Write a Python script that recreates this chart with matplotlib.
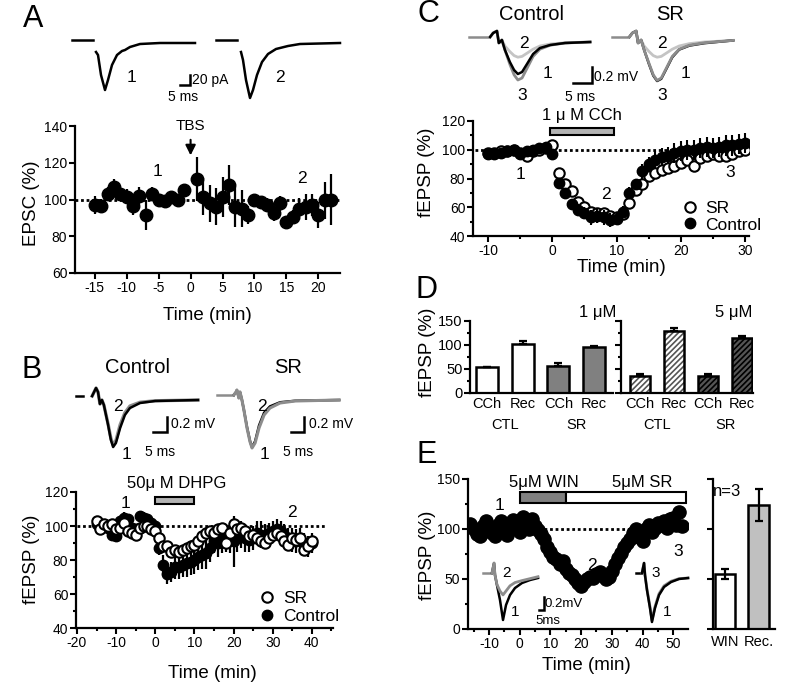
"""
Five-panel figure: EPSC after TBS (A), DHPG (B), CCh (C, D) and WIN/SR (E).
"""
import numpy as np
import matplotlib.pyplot as plt
from matplotlib.lines import Line2D
from matplotlib.ticker import MultipleLocator

# -------------------- Data --------------------
# A: EPSC (%) vs time (min)
a_time = [-15, -14, -13, -12, -11, -10, -9, -8, -7, -6, -5, -4, -3, -2, -1,
          1, 2, 3, 4, 5, 6, 7, 8, 9, 10, 11, 12, 13, 14, 15, 16, 17, 18, 19, 20, 21, 22]
a_epsc = [97, 96.5, 103, 107, 103, 101.5, 96.5, 102, 91.5, 103, 100, 99, 101.5, 99.5, 105,
          111, 101.5, 98, 96, 101.5, 108, 96, 95, 91.5, 99.5, 98.5, 97, 92.5, 98, 88, 90.5,
          95, 96, 97, 91.5, 99.5, 100]
a_err = [5, 4, 4, 4, 3, 4, 5, 5, 8, 4, 3, 3, 3, 3, 3,
         12, 10, 10, 10, 11, 11, 11, 10, 5, 3, 3, 4, 4, 4, 3, 4, 6, 7, 6, 7, 10, 14]

# A traces (ms, pA)
a_tr1_t = [13, 14, 15.5, 17.5, 19, 21, 23.5, 26, 27.5, 30, 35, 45, 62.5]
a_tr1_v = [-18, -24, -64, -94, -74, -44, -24, -16, -14, -8, -2, 0, 0]
a_tr2_t = [85.5, 86.5, 88, 90, 91.5, 93.5, 96, 99, 103, 109, 115, 135]
a_tr2_v = [-18, -34, -74, -110, -94, -64, -38, -22, -12, -6, -2, 0]
a_base_t = [[1, 11.5], [73, 83.5]]

# B: fEPSP (%) with DHPG
b_time = list(range(-15, 41))
b_sr = [103, 98, 101, 100, 101, 98, 99, 102, 97, 96, 95, 99, 100, 100, 98, 97,
        93, 88, 88, 85, 86, 85, 86, 87, 88, 89, 91, 94, 96, 97, 96, 98, 99, 90, 96, 101,
        98, 99, 97, 94, 95, 93, 91, 90, 93, 95, 96, 94, 91, 89, 93, 92, 93, 86, 88, 91]
b_ctl = [101, 99, 100, 99, 95, 94, 103, 105, 104, 99, 98, 106, 105, 104, 102, 100,
         87, 77, 72, 73, 76, 76, 77, 78, 79, 80, 82, 83, 84, 87, 91, 90, 92, 93, 92, 91,
         93, 95, 93, 92, 93, 96, 95, 94, 96, 97, 98, 97, 95, 93, 92, 91, 92, 90, 88, 90]
b_ctl_err = [3, 3, 3, 3, 3, 3, 3, 3, 3, 3, 3, 3, 3, 3, 3, 3,
             4, 6, 6, 6, 7, 7, 7, 8, 8, 8, 8, 8, 9, 8, 7, 8, 8, 8, 8, 15,
             8, 8, 8, 7, 7, 7, 8, 7, 6, 6, 6, 6, 6, 6, 7, 7, 7, 6, 6, 6]
b_dhpg = (0, 10)

# B traces (ms, mV)
b_ctl_t = [7.9, 8.6, 9.3, 10.0, 10.7, 11.4, 12.1, 13.6, 14.6, 15.4, 16.4, 17.9, 19.6, 21.4, 25.0, 30.4, 45.7]
b_ctl_1 = [0.053, 0.107, 0.16, 0.107, -0.053, 0, -0.067, -0.333, -0.533, -0.627, -0.573, -0.373, -0.2, -0.107, -0.04, -0.013, 0]
b_ctl_2 = [0.053, 0.107, 0.16, 0.107, -0.053, 0, -0.067, -0.32, -0.51, -0.6, -0.54, -0.33, -0.17, -0.08, -0.03, -0.01, 0]
b_sr_t = [58.5, 59.3, 59.6, 60.3, 60.7, 61.4, 62.1, 63.2, 64.3, 65.0, 66.1, 67.5, 69.3, 71.4, 75.0, 80.4, 96.1]
b_sr_1 = [0.067, 0.107, 0.133, 0.027, 0.107, 0, -0.133, -0.373, -0.56, -0.64, -0.573, -0.373, -0.2, -0.107, -0.04, -0.013, 0]
b_sr_2 = [0.067, 0.107, 0.133, 0.027, 0.107, 0, -0.133, -0.36, -0.55, -0.63, -0.55, -0.34, -0.17, -0.085, -0.03, -0.01, 0]
b_base_t = [[2.1, 4.6], [52.5, 58.2]]

# C: fEPSP (%) with CCh
c_time = list(range(-10, 31))
c_ctl = [97, 97, 98, 99, 100, 97, 99, 100, 101, 102, 97, 77, 70, 62, 58, 56, 53, 54, 53, 51, 52,
         57, 70, 76, 85, 90, 93, 95, 96, 98, 99, 100, 100, 101, 102, 101, 102, 103, 103, 104, 105]
c_ctl_err = [2, 2, 2, 2, 2, 2, 2, 2, 2, 2, 2, 3, 3, 3, 4, 4, 5, 5, 5, 5, 4,
             4, 4, 4, 5, 5, 6, 6, 6, 7, 7, 7, 7, 7, 7, 7, 7, 7, 7, 7, 7]
c_sr = [98, 98, 99, 99, 100, 98, 96, 99, 100, 101, 103, 84, 76, 71, 64, 60, 57, 56, 56, 54, 53,
        55, 63, 72, 76, 82, 84, 86, 87, 89, 91, 93, 89, 94, 96, 97, 96, 96, 97, 99, 100]
c_cch = (-0.3, 9.6)

# C traces (ms, mV)
c_ctl_t = [6.6, 7.4, 8.4, 8.9, 9.7, 10.5, 11.8, 12.9, 13.9, 15.0, 16.3, 17.9, 19.7, 22.4, 26.3, 32.9]
c_ctl_1 = [0.0625, 0.1125, 0.1375, -0.0125, 0.025, -0.1, -0.25, -0.35, -0.4, -0.375, -0.275, -0.15, -0.075, -0.0375, -0.0125, 0]
c_ctl_2 = [0.0625, 0.1125, 0.1375, -0.0125, 0.025, -0.05, -0.12, -0.17, -0.19, -0.18, -0.14, -0.09, -0.05, -0.025, -0.01, 0]
c_ctl_3 = [0.0625, 0.1125, 0.1375, -0.0125, 0.025, -0.1, -0.28, -0.41, -0.475, -0.45, -0.33, -0.18, -0.09, -0.04, -0.0125, 0]
c_sr_t = [43.2, 44.0, 45.0, 45.5, 46.3, 47.1, 48.4, 49.5, 50.5, 51.6, 52.9, 54.5, 56.3, 59.0, 62.9, 70.5]
c_sr_1 = [0.0625, 0.1125, 0.1375, -0.0125, 0.025, -0.1, -0.28, -0.42, -0.4875, -0.46, -0.34, -0.19, -0.095, -0.045, -0.015, 0.02]
c_sr_2 = [0.0625, 0.1125, 0.1375, -0.0125, 0.025, -0.05, -0.12, -0.17, -0.19, -0.18, -0.14, -0.09, -0.05, -0.02, 0, 0.02]
c_sr_3 = [0.0625, 0.1125, 0.1375, -0.0125, 0.025, -0.1, -0.27, -0.41, -0.48, -0.45, -0.33, -0.18, -0.09, -0.04, -0.01, 0.02]
c_base_t = [[1.05, 6.05], [38.7, 42.6]]

# D: bar summaries
d_labels = ["CCh", "Rec", "CCh", "Rec"]
d_groups = ["CTL", "SR"]
d1_vals = [55, 103, 56, 95]
d1_err = [0, 6, 6, 3]
d5_vals = [35, 129, 35, 115]
d5_err = [4, 7, 4, 4]

# E: fEPSP (%) with WIN then SR
e_time = list(range(-16, 54))
e_fepsp = [105, 100, 95, 93, 103, 108, 102, 96, 93, 104, 108, 100, 94, 106, 109, 101, 97,
           112, 107, 100, 110, 103, 99, 95, 90, 82, 77, 72, 70, 65, 68, 60, 56, 54, 50, 46, 43,
           47, 50, 52, 51, 55, 57, 53, 50, 52, 58, 65, 71, 76, 82, 86, 90, 96, 100, 92, 88,
           100, 104, 97, 101, 106, 104, 108, 101, 110, 111, 104, 117, 103]
e_win = (0, 15)
e_srp = (15, 54)
e_bar_labels = ["WIN", "Rec."]
e_bar_vals = [55, 124]
e_bar_err = [5, 16]

# E traces (ms, mV)
e_l_t = [14.8, 17.0, 18.0, 20.1, 23.3, 26.5, 29.7, 33.9, 39.2, 46.6, 55.1, 63.6]
e_l_1 = [0.077, 0.23, 0.046, -0.108, -0.338, -0.646, -0.415, -0.262, -0.154, -0.077, -0.031, 0]
e_l_2 = [0.077, 0.23, 0.046, -0.1, -0.2, -0.26, -0.2, -0.12, -0.07, -0.04, -0.01, 0.02]
e_r_t = [14.8, 17.0, 18.0, 20.1, 23.3, 25.4, 28.6, 32.9, 38.2, 45.6, 54.1, 63.6]
e_r_1 = [0.077, 0.23, 0.046, -0.185, -0.462, -0.677, -0.462, -0.262, -0.138, -0.062, -0.015, 0]
e_r_3 = [0.077, 0.23, 0.046, -0.17, -0.44, -0.65, -0.44, -0.24, -0.12, -0.05, -0.01, 0]

# -------------------- Style --------------------
plt.rcParams["font.family"] = ["Liberation Sans", "DejaVu Sans"]
plt.rcParams["axes.linewidth"] = 1.6
plt.rcParams["axes.unicode_minus"] = False
plt.rcParams["hatch.linewidth"] = 1.2

W, H = 800, 698
fig = plt.figure(figsize=(W / 100, H / 100), dpi=100)
DOT = (0, (1, 1))
TLW = 1.8  # trace line width


def px_axes(x0, y0, x1, y1):
    return fig.add_axes([x0 / W, 1 - y1 / H, (x1 - x0) / W, (y1 - y0) / H])


def style(ax, size=10):
    for s in ["top", "right"]:
        ax.spines[s].set_visible(False)
    ax.tick_params(direction="out", length=4, width=1.5, labelsize=size, pad=1.5)
    ax.tick_params(which="minor", direction="out", length=2.5, width=1.5)
    ax.patch.set_alpha(0)


def trace_axes(x0, y0, x1, y1, tlim, vlim):
    ax = px_axes(x0, y0, x1, y1)
    ax.set_xlim(tlim)
    ax.set_ylim(vlim)
    ax.axis("off")
    return ax


def scalebar(ax, t0, t1, v0, v1, tlab, vlab, tpos, vpos, size=10):
    ax.plot([t0, t1, t1], [v0, v0, v1], color="k", lw=1.8, solid_joinstyle="miter")
    ax.text(vpos[0], vpos[1], vlab, ha="left", va="center", fontsize=size)
    ax.text(tpos[0], tpos[1], tlab, ha="center", va="center", fontsize=size)


def label(x, y, s, size=13.5, rot=0):
    fig.text(x / W, 1 - y / H, s, ha="center", va="center", fontsize=size, rotation=rot)


# -------------------- Panel A --------------------
axA = px_axes(75, 126, 340, 273)
style(axA)
axA.axhline(100, ls=DOT, lw=2, color="k", zorder=1)
axA.errorbar(a_time, a_epsc, yerr=a_err, fmt="o", ms=9, mfc="k", mec="k",
             ecolor="k", elinewidth=1.6, capsize=0, zorder=3)
axA.set_xlim(-18.1, 23.4)
axA.set_ylim(60, 140)
axA.set_xticks(np.arange(-15, 21, 5))
axA.set_yticks(np.arange(60, 141, 20))
axA.text(0, 140, "TBS", ha="center", va="center", fontsize=11)
axA.annotate("", xy=(0, 122.5), xytext=(0, 134), annotation_clip=False,
             arrowprops=dict(arrowstyle="-|>,head_width=0.3,head_length=0.6", color="k", lw=1.5))
axA.text(-5.25, 115.5, "1", ha="center", va="center", fontsize=12.5)
axA.text(17.5, 111.7, "2", ha="center", va="center", fontsize=12.5)

trA = trace_axes(70, 30, 345, 105, (0, 137.5), (-124, 26))
for t0, t1 in a_base_t:
    trA.plot([t0, t1], [6, 6], color="k", lw=TLW)
trA.plot(a_tr1_t, a_tr1_v, color="k", lw=TLW)
trA.plot(a_tr2_t, a_tr2_v, color="k", lw=TLW)
trA.text(31, -70, "1", ha="center", va="center", fontsize=12.5)
trA.text(105, -70, "2", ha="center", va="center", fontsize=12.5)
scalebar(trA, 55, 60, -84, -64, "5 ms", "20 pA", (56.5, -108), (61, -74))

# -------------------- Panel B --------------------
axB = px_axes(76, 492, 333, 628)
style(axB)
axB.hlines(100, -20, 43.6, ls=DOT, lw=2, color="k", zorder=1)
axB.errorbar(b_time, b_ctl, yerr=b_ctl_err, fmt="o", ms=7.5, mfc="k", mec="k",
             ecolor="k", elinewidth=1.6, capsize=0, zorder=3)
axB.plot(b_time, b_sr, "o", ms=7.5, mfc="w", mec="k", mew=1.5, zorder=4)
axB.set_xlim(-20.25, 45.4)
axB.set_ylim(40, 120)
axB.set_xticks(np.arange(-20, 41, 10))
axB.set_yticks(np.arange(40, 121, 20))
axB.xaxis.set_minor_locator(MultipleLocator(5))
axB.yaxis.set_minor_locator(MultipleLocator(10))
axB.barh(115, b_dhpg[1] - b_dhpg[0], left=b_dhpg[0], height=4, color="#b4b4b4",
         edgecolor="k", lw=1.5, clip_on=False, zorder=5)
axB.text(5.5, 125, "50\u03bc M DHPG", ha="center", va="center", fontsize=12, clip_on=False)
axB.text(-7.5, 113, "1", ha="center", va="center", fontsize=12.5)
axB.text(35, 108, "2", ha="center", va="center", fontsize=12.5)
hB = [Line2D([], [], ls="", marker="o", ms=7.5, mfc="w", mec="k", mew=1.5),
      Line2D([], [], ls="", marker="o", ms=7.5, mfc="k", mec="k")]
axB.legend(hB, ["SR", "Control"], loc="lower left", bbox_to_anchor=(0.69, -0.02),
           frameon=False, handlelength=0.8, handletextpad=0.5, labelspacing=0.15,
           fontsize=12.5, borderaxespad=0)

trB = trace_axes(70, 380, 345, 460, (0, 98.2), (-0.8, 0.267))
trB.plot(b_base_t[0], [0.053, 0.053], color="k", lw=TLW)
trB.plot(b_base_t[1], [0.067, 0.067], color="#8c8c8c", lw=TLW)
trB.plot(b_ctl_t, b_ctl_2, color="#8c8c8c", lw=2.4)
trB.plot(b_ctl_t, b_ctl_1, color="k", lw=TLW)
trB.plot(b_sr_t, b_sr_2, color="k", lw=TLW)
trB.plot(b_sr_t, b_sr_1, color="#8c8c8c", lw=2.2)
trB.text(17.1, -0.093, "2", ha="center", va="center", fontsize=12.5)
trB.text(20, -0.72, "1", ha="center", va="center", fontsize=12.5)
trB.text(68.6, -0.093, "2", ha="center", va="center", fontsize=12.5)
trB.text(69.3, -0.72, "1", ha="center", va="center", fontsize=12.5)
scalebar(trB, 29.6, 34.6, -0.427, -0.227, "5 ms", "0.2 mV", (32.1, -0.69), (36.2, -0.32))
scalebar(trB, 78.9, 83.5, -0.427, -0.227, "5 ms", "0.2 mV", (81.5, -0.69), (85.3, -0.32))

# -------------------- Panel C --------------------
axC = px_axes(473, 121, 749, 236)
style(axC)
axC.hlines(100, -12, 30.5, ls=DOT, lw=2, color="k", zorder=1)
axC.errorbar(c_time, c_sr, yerr=2, fmt="o", ms=7.5, mfc="w", mec="k", mew=1.5,
             ecolor="k", elinewidth=1.5, capsize=0, zorder=3)
axC.errorbar(c_time, c_ctl, yerr=c_ctl_err, fmt="o", ms=7.5, mfc="k", mec="k",
             ecolor="k", elinewidth=1.5, capsize=0, zorder=4)
axC.set_xlim(-12.33, 30.6)
axC.set_ylim(40, 120)
axC.set_xticks(np.arange(-10, 31, 10))
axC.set_yticks(np.arange(40, 121, 20))
axC.xaxis.set_minor_locator(MultipleLocator(5))
axC.yaxis.set_minor_locator(MultipleLocator(10))
axC.barh(112.5, c_cch[1] - c_cch[0], left=c_cch[0], height=5, color="#b4b4b4",
         edgecolor="k", lw=1.5, clip_on=False, zorder=5)
axC.text(4.6, 123.5, "1 \u03bc M CCh", ha="center", va="center", fontsize=12, clip_on=False)
axC.text(-5, 83, "1", ha="center", va="center", fontsize=12.5)
axC.text(8.3, 69, "2", ha="center", va="center", fontsize=12.5)
axC.text(27.7, 84, "3", ha="center", va="center", fontsize=12.5)
axC.legend(hB, ["SR", "Control"], loc="lower left", bbox_to_anchor=(0.735, -0.03),
           frameon=False, handlelength=0.8, handletextpad=0.5, labelspacing=0.1,
           fontsize=12.5, borderaxespad=0)

trC = trace_axes(465, 25, 740, 100, (0, 72.3), (-0.725, 0.2125))
for t0, t1 in c_base_t:
    trC.plot([t0, t1], [0.0625, 0.0625], color="#8c8c8c", lw=TLW)
trC.plot(c_ctl_t, c_ctl_2, color="#c4c4c4", lw=2.0)
trC.plot(c_ctl_t, c_ctl_3, color="#8c8c8c", lw=2.0)
trC.plot(c_ctl_t, c_ctl_1, color="k", lw=TLW)
trC.plot(c_sr_t, c_sr_2, color="#c4c4c4", lw=2.0)
trC.plot(c_sr_t, c_sr_1, color="k", lw=TLW)
trC.plot(c_sr_t, c_sr_3, color="#8c8c8c", lw=2.0)
for t, s, v in [(15.5, "2", -0.0125), (21.6, "1", -0.4), (15, "3", -0.675),
                (51.8, "2", -0.0125), (58.1, "1", -0.4), (51.8, "3", -0.675)]:
    trC.text(t, v, s, ha="center", va="center", fontsize=12.5)
scalebar(trC, 28.4, 33.4, -0.5125, -0.3125, "5 ms", "0.2 mV", (30.2, -0.6875), (34.0, -0.4375))

# -------------------- Panel D --------------------
pos = np.arange(4)
axD1 = px_axes(470, 321, 613, 393)
style(axD1, 10.5)
axD1.bar(pos, d1_vals, width=0.62, color=["w", "w", "#808080", "#808080"], edgecolor="k", lw=1.8,
         yerr=[np.zeros(4), d1_err], error_kw=dict(ecolor="k", elinewidth=1.6, capsize=3, capthick=1.6))
axD1.set_xlim(-0.48, 3.53)
axD1.set_ylim(0, 150)
axD1.set_yticks([0, 50, 100, 150])
axD1.yaxis.set_minor_locator(MultipleLocator(25))
axD1.set_xticks(pos, d_labels)
axD1.tick_params(axis="x", length=0, pad=3)
axD1.text(3.1, 168, "1 \u03bcM", ha="center", va="center", fontsize=12, clip_on=False)

axD5 = px_axes(621, 321, 753, 393)
style(axD5, 10.5)
axD5.bar(pos, d5_vals, width=0.6, color=["w", "w", "#555555", "#555555"],
         edgecolor=["#555555", "#555555", "k", "k"], hatch="//////", lw=0)
axD5.bar(pos, d5_vals, width=0.6, fill=False, edgecolor="k", lw=1.8,
         yerr=[np.zeros(4), d5_err], error_kw=dict(ecolor="k", elinewidth=1.6, capsize=3, capthick=1.6))
axD5.set_xlim(-0.56, 3.32)
axD5.set_ylim(0, 150)
axD5.set_yticks([0, 50, 100, 150])
axD5.set_yticklabels([])
axD5.yaxis.set_minor_locator(MultipleLocator(25))
axD5.set_xticks(pos, d_labels)
axD5.tick_params(axis="x", length=0, pad=3)
axD5.text(2.75, 168, "5 \u03bcM", ha="center", va="center", fontsize=12, clip_on=False)

for ax in (axD1, axD5):
    for i, g in enumerate(d_groups):
        ax.text(2 * i + 0.5, -0.44, g, transform=ax.get_xaxis_transform(),
                ha="center", va="center", fontsize=10.5)

# -------------------- Panel E --------------------
axE = px_axes(468, 479, 688, 629)
style(axE)
axE.hlines(100, 8, 37, ls=DOT, lw=2, color="k", zorder=1)
axE.plot(e_time, e_fepsp, "o", ms=9.5, color="k", zorder=3)
axE.set_xlim(-16.8, 54.8)
axE.set_ylim(0, 150)
axE.set_xticks(np.arange(-10, 51, 10))
axE.set_yticks([0, 50, 100, 150])
axE.xaxis.set_minor_locator(MultipleLocator(5))
axE.yaxis.set_minor_locator(MultipleLocator(25))
axE.barh(131.5, e_win[1] - e_win[0], left=e_win[0], height=11, color="#808080",
         edgecolor="k", lw=1.5, clip_on=False, zorder=5)
axE.barh(131.5, e_srp[1] - e_srp[0], left=e_srp[0], height=11, color="w",
         edgecolor="k", lw=1.5, clip_on=False, zorder=5)
axE.text(7.8, 146, "5\u03bcM WIN", ha="center", va="center", fontsize=12, clip_on=False)
axE.text(40, 146, "5\u03bcM SR", ha="center", va="center", fontsize=12, clip_on=False)
axE.text(-6.5, 123, "1", ha="center", va="center", fontsize=12.5)
axE.text(23.5, 63, "2", ha="center", va="center", fontsize=12.5)
axE.text(51.5, 77, "3", ha="center", va="center", fontsize=12.5)

trEl = trace_axes(478, 555, 550, 630, (0, 76.3), (-0.8, 0.354))
trEl.plot([5.3, 13.8], [0.077, 0.077], color="#8c8c8c", lw=TLW)
trEl.plot(e_l_t, e_l_1, color="k", lw=TLW)
trEl.plot(e_l_t, e_l_2, color="#8c8c8c", lw=2.0)
trEl.text(30.5, 0.077, "2", ha="center", va="center", fontsize=11)
trEl.text(39.2, -0.52, "1", ha="center", va="center", fontsize=11)
scalebar(trEl, 65, 70, -0.492, -0.292, "", "0.2mV", (0, 0), (71, -0.4), size=9.5)
trEl.text(60.4, -0.66, "5ms", ha="left", va="center", fontsize=9.5)

trEr = trace_axes(628, 555, 700, 630, (0, 76.3), (-0.8, 0.354))
trEr.plot([8.5, 13.8], [0.077, 0.077], color="k", lw=TLW)
trEr.plot(e_r_t, e_r_3, color="#8c8c8c", lw=2.0)
trEr.plot(e_r_t, e_r_1, color="k", lw=TLW)
trEr.text(29.5, 0.077, "3", ha="center", va="center", fontsize=11)
trEr.text(41.3, -0.52, "1", ha="center", va="center", fontsize=11)

axEb = px_axes(713, 479, 775, 629)
style(axEb, 10.5)
axEb.bar([0, 1], e_bar_vals, width=0.62, color=["w", "#c0c0c0"], edgecolor="k", lw=1.8,
         yerr=e_bar_err, error_kw=dict(ecolor="k", elinewidth=1.6, capsize=3, capthick=1.6))
axEb.set_xlim(-0.36, 1.49)
axEb.set_ylim(0, 150)
axEb.set_yticks([0, 50, 100, 150])
axEb.set_yticklabels([])
axEb.set_xticks([0, 1], e_bar_labels)
axEb.tick_params(axis="x", length=0, pad=4)
axEb.text(0.05, 137, "n=3", ha="center", va="center", fontsize=12)

# -------------------- Labels --------------------
label(33, 19, "A", 22)
label(32, 370, "B", 22)
label(428, 14, "C", 22)
label(427, 290, "D", 22)
label(427, 455, "E", 22)
label(137, 368, "Control", 14.5)
label(288, 368, "SR", 14.5)
label(532, 14, "Control", 14.5)
label(670, 14, "SR", 14.5)

label(32, 203, "EPSC (%)", rot=90)
label(32, 559, "fEPSP (%)", rot=90)
label(427, 172, "fEPSP (%)", rot=90)
label(428, 352, "fEPSP (%)", rot=90)
label(428, 555, "fEPSP (%)", rot=90)
label(207, 315, "Time (min)")
label(212, 673, "Time (min)")
label(621, 268, "Time (min)")
label(586, 665, "Time (min)")

fig.savefig("out.png", dpi=100)
